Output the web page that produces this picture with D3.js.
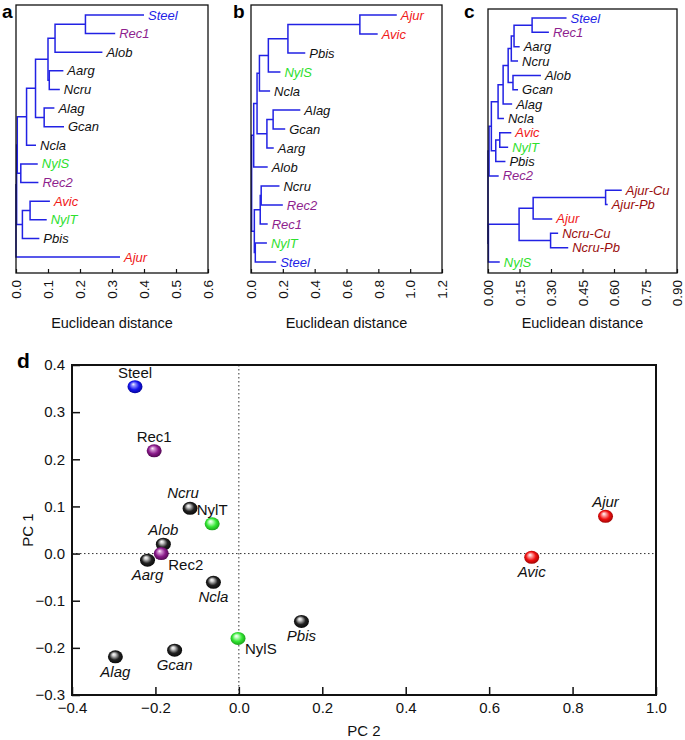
<!DOCTYPE html>
<html><head><meta charset="utf-8">
<script src="https://cdn.jsdelivr.net/npm/d3@7"></script>
<style>body{margin:0;background:#fff}svg{display:block;font-family:"Liberation Sans",Arial,sans-serif}</style>
</head><body><svg id="c" width="685" height="740"></svg>
<script>
// ---------- Dendrogram a ----------
const leavesA = ["Steel","Rec1","Alob","Aarg","Ncru","Alag","Gcan","Ncla","NylS","Rec2","Avic","NylT","Pbis","Ajur"];
const leafDistA = [0.40,0.31,0.27,0.148,0.137,0.12,0.15,0.0625,0.068,0.07,0.106,0.096,0.073,0.325];
const mergesA = [
  ["Steel","Rec1",0.217],[0,"Alob",0.122],["Aarg","Ncru",0.104],[1,2,0.10],
  ["Alag","Gcan",0.088],[3,4,0.061],[5,"Ncla",0.033],["NylS","Rec2",0.015],
  [6,7,0.004],["Avic","NylT",0.044],[9,"Pbis",0.02],[8,10,0.002],[11,"Ajur",0.0]
];
const ticksA = [0,0.1,0.2,0.3,0.4,0.5,0.6];
// ---------- Dendrogram b ----------
const leavesB = ["Ajur","Avic","Pbis","NylS","Ncla","Alag","Gcan","Aarg","Alob","Ncru","Rec2","Rec1","NylT","Steel"];
const leafDistB = [0.916,0.796,0.341,0.185,0.12,0.31,0.215,0.143,0.105,0.179,0.2,0.105,0.1,0.158];
const mergesB = [
  ["Ajur","Avic",0.684],[0,"Pbis",0.232],[1,"NylS",0.109],[2,"Ncla",0.053],
  ["Alag","Gcan",0.139],[4,"Aarg",0.10],[3,5,0.038],[6,"Alob",0.017],
  ["Ncru","Rec2",0.064],[8,"Rec1",0.058],["NylT","Steel",0.027],[9,10,0.021],[7,11,0.004]
];
const ticksB = [0,0.2,0.4,0.6,0.8,1.0,1.2];
// ---------- Dendrogram c ----------
const leavesC = ["Steel","Rec1","Aarg","Ncru","Alob","Gcan","Alag","Ncla","Avic","NylT","Pbis","Rec2","Ajur-Cu","Ajur-Pb","Ajur","Ncru-Cu","Ncru-Pb","NylS"];
const leafDistC = [0.374,0.29,0.151,0.143,0.252,0.143,0.115,0.076,0.111,0.096,0.083,0.051,0.637,0.57,0.306,0.334,0.382,0.056];
const mergesC = [
  ["Steel","Rec1",0.21],[0,"Aarg",0.124],[1,"Ncru",0.111],["Alob","Gcan",0.119],
  [2,3,0.096],[4,"Alag",0.072],[5,"Ncla",0.048],["Avic","NylT",0.056],[7,"Pbis",0.037],
  [6,8,0.016],[9,"Rec2",0.005],["Ajur-Cu","Ajur-Pb",0.56],[11,"Ajur",0.215],
  ["Ncru-Cu","Ncru-Pb",0.298],[12,13,0.148],[14,"NylS",0.002],[10,15,0.0]
];
const ticksC = [0,0.15,0.30,0.45,0.60,0.75,0.90];
// ---------- PCA d ----------
const pcNames = ["Steel","Rec1","Ncru","NylT","Alob","Rec2","Aarg","Ncla","Pbis","NylS","Gcan","Alag","Avic","Ajur"];
const pc2 = [-0.249,-0.203,-0.117,-0.064,-0.181,-0.186,-0.219,-0.061,0.150,-0.002,-0.154,-0.296,0.702,0.879];
const pc1 = [0.354,0.218,0.096,0.063,0.020,0.000,-0.014,-0.061,-0.144,-0.180,-0.205,-0.219,-0.008,0.079];
const pcPlace = ["top","top","topleft","top","top","right","bottom","bottom","bottom","right","bottom","bottom","bottom","top"];
const pcTicksX = [-0.4,-0.2,0,0.2,0.4,0.6,0.8,1.0];
const pcTicksY = [-0.3,-0.2,-0.1,0,0.1,0.2,0.3,0.4];

const colorOf = n => ({"Steel":"#2323e6","Rec1":"#8e1f8e","Rec2":"#8e1f8e","NylS":"#2ee02e","NylT":"#2ee02e",
  "Avic":"#f01818","Ajur":"#f01818","Ajur-Cu":"#9a0d0d","Ajur-Pb":"#9a0d0d","Ncru-Cu":"#9a0d0d","Ncru-Pb":"#9a0d0d"}[n] || "#111");
const uprightD = new Set(["Steel","Rec1","Rec2","NylS","NylT"]);

const svg = d3.select("#c");

function dendro(cfg){
  const g = svg.append("g");
  const x = d3.scaleLinear().domain([0, cfg.xmax]).range([cfg.left, cfg.right]);
  const y = d3.scalePoint().domain(cfg.leaves).range([cfg.leafTop, cfg.leafBottom]);
  const leafNode = {};
  cfg.leaves.forEach((n,i)=> leafNode[n] = {d: cfg.dists[i], y: y(n)});
  const nodes = [];
  const get = k => typeof k === "number" ? nodes[k] : leafNode[k];
  cfg.merges.forEach(m => {
    const a = get(m[0]), b = get(m[1]);
    nodes.push({d: m[2], y: (a.y + b.y)/2, a, b});
  });
  g.append("g").selectAll("path").data(nodes).join("path")
    .attr("d", n => `M${x(n.a.d)},${n.a.y}H${x(n.d)}V${n.b.y}H${x(n.b.d)}`)
    .attr("fill","none").attr("stroke","#2222e4").attr("stroke-width",1.5);
  g.append("g").selectAll("text").data(cfg.leaves).join("text")
    .attr("x", n => x(leafNode[n].d) + 4).attr("y", n => y(n)).attr("dy","0.35em")
    .attr("font-size",13).attr("font-style","italic").attr("fill", colorOf).text(n=>n);
  g.append("rect").attr("x",cfg.left).attr("y",cfg.top).attr("width",cfg.right-cfg.left)
    .attr("height",cfg.bottom-cfg.top).attr("fill","none").attr("stroke","#111").attr("stroke-width",1.3);
  const ax = g.append("g").attr("transform",`translate(0,${cfg.bottom})`)
    .call(d3.axisBottom(x).tickValues(cfg.ticks).tickFormat(d3.format(cfg.fmt)).tickSize(-4));
  ax.select(".domain").remove();
  ax.selectAll("line").attr("stroke","#111").attr("stroke-width",1.2);
  ax.selectAll("text").attr("transform","rotate(-90)").attr("x",-7).attr("y",0).attr("dy","0.35em")
    .style("text-anchor","end").attr("font-size",13.5).attr("fill","#111").attr("font-family",null);
  g.append("text").attr("x",(cfg.left+cfg.right)/2).attr("y",328).attr("text-anchor","middle")
    .attr("font-size",14.5).attr("fill","#111").text("Euclidean distance");
  g.append("text").attr("x",cfg.lx).attr("y",18).attr("font-size",19).attr("font-weight","bold").text(cfg.letter);
}

dendro({left:16,right:208,top:5,bottom:273,xmax:0.6,leaves:leavesA,dists:leafDistA,merges:mergesA,
  ticks:ticksA,fmt:".1f",leafTop:15,leafBottom:257,letter:"a",lx:2});
dendro({left:251,right:442,top:5,bottom:273,xmax:1.2,leaves:leavesB,dists:leafDistB,merges:mergesB,
  ticks:ticksB,fmt:".1f",leafTop:15,leafBottom:262,letter:"b",lx:233});
dendro({left:488,right:677,top:9,bottom:273,xmax:0.9,leaves:leavesC,dists:leafDistC,merges:mergesC,
  ticks:ticksC,fmt:".2f",leafTop:18,leafBottom:262,letter:"c",lx:464});

// ---------- Panel d ----------
const L=72,R=656,T=365,B=695;
const xs = d3.scaleLinear().domain([-0.4,1.0]).range([L,R]);
const ys = d3.scaleLinear().domain([-0.3,0.4]).range([B,T]);
const gd = svg.append("g");
const defs = svg.append("defs");
const ballColors = {"#2323e6":"blue","#8e1f8e":"purp","#2ee02e":"grn","#f01818":"red","#111":"blk"};
const base = {blue:["#9a9aff","#1515ee","#00007a"],purp:["#d79ad7","#8a1a8a","#3d003d"],
  grn:["#c8ffc8","#33e633","#118811"],red:["#ffb0b0","#f01010","#800000"],blk:["#d0d0d0","#222","#000"]};
Object.entries(base).forEach(([k,c])=>{
  const gr = defs.append("radialGradient").attr("id","g-"+k).attr("cx","50%").attr("cy","50%").attr("r","60%")
    .attr("fx","38%").attr("fy","30%");
  gr.append("stop").attr("offset","0%").attr("stop-color","#fff");
  gr.append("stop").attr("offset","18%").attr("stop-color",c[0]);
  gr.append("stop").attr("offset","55%").attr("stop-color",c[1]);
  gr.append("stop").attr("offset","100%").attr("stop-color",c[2]);
});

gd.append("line").attr("x1",xs(0)).attr("x2",xs(0)).attr("y1",T).attr("y2",B)
  .attr("stroke","#333").attr("stroke-dasharray","1.5,2.5");
gd.append("line").attr("x1",L).attr("x2",R).attr("y1",ys(0)).attr("y2",ys(0))
  .attr("stroke","#333").attr("stroke-dasharray","1.5,2.5");

const ayL = gd.append("g").attr("transform",`translate(${L},0)`)
  .call(d3.axisLeft(ys).tickValues(pcTicksY).tickFormat(d3.format(".1f")).tickSizeInner(-8).tickSizeOuter(0).tickPadding(7));
const axB = gd.append("g").attr("transform",`translate(0,${B})`)
  .call(d3.axisBottom(xs).tickValues(pcTicksX).tickFormat(d3.format(".1f")).tickSizeInner(-8).tickSizeOuter(0).tickPadding(7));
[ayL,axB].forEach(a=>{a.select(".domain").remove();
  a.selectAll("text").attr("font-size",15).attr("fill","#111").attr("font-family",null);
  a.selectAll("line").attr("stroke","#111").attr("stroke-width",1.5);});
gd.append("rect").attr("x",L).attr("y",T).attr("width",R-L).attr("height",B-T)
  .attr("fill","none").attr("stroke","#111").attr("stroke-width",2);

const pts = pcNames.map((n,i)=>({n, x:pc2[i], y:pc1[i], p:pcPlace[i]}));
gd.selectAll("ellipse").data(pts).join("ellipse")
  .attr("cx",d=>xs(d.x)).attr("cy",d=>ys(d.y)).attr("rx",7.5).attr("ry",6.5)
  .attr("fill",d=>`url(#g-${ballColors[colorOf(d.n)]})`);
const off = {top:[0,-9,"middle"],bottom:[0,20,"middle"],topleft:[-7,-10,"middle"],right:[7,16,"start"]};
gd.selectAll("text.pl").data(pts).join("text").attr("class","pl")
  .attr("x",d=>xs(d.x)+off[d.p][0]).attr("y",d=>ys(d.y)+off[d.p][1]).attr("text-anchor",d=>off[d.p][2])
  .attr("font-size",15).attr("fill","#111").attr("font-style",d=>uprightD.has(d.n)?"normal":"italic").text(d=>d.n);

gd.append("text").attr("x",(L+R)/2).attr("y",736).attr("text-anchor","middle").attr("font-size",15).attr("fill","#111").text("PC 2");
gd.append("text").attr("transform",`translate(33,${(T+B)/2}) rotate(-90)`).attr("text-anchor","middle")
  .attr("font-size",15).attr("fill","#111").text("PC 1");
gd.append("text").attr("x",17).attr("y",368).attr("font-size",21).attr("font-weight","bold").text("d");
</script></body></html>
